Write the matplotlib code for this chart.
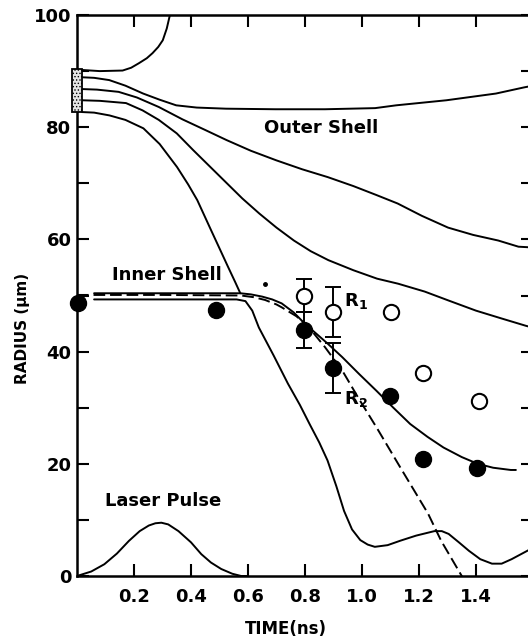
import matplotlib
matplotlib.use('Agg')
import matplotlib.pyplot as plt
from matplotlib.patches import Rectangle
from matplotlib.ticker import MultipleLocator, FixedLocator

plt.rcParams['font.family'] = ['DejaVu Sans']
plt.rcParams['font.weight'] = 'bold'
plt.rcParams['mathtext.fontset'] = 'custom'
plt.rcParams['mathtext.bf'] = 'DejaVu Sans:bold'
plt.rcParams['mathtext.rm'] = 'DejaVu Sans:bold'
plt.rcParams['hatch.linewidth'] = 0.6

# --- simulated trajectories (time in ns, radius in um) ---
top_t = [0.018, 0.08, 0.16, 0.19, 0.217, 0.245, 0.265, 0.285, 0.301, 0.315, 0.326, 0.335]
top_r = [90.2, 90.0, 90.1, 90.6, 91.4, 92.3, 93.2, 94.3, 95.5, 97.6, 100.0, 101.8]

a_t = [0.018, 0.06, 0.113, 0.17, 0.232, 0.29, 0.348, 0.42, 0.523, 0.696, 0.87, 1.046, 1.12, 1.296, 1.47, 1.569, 1.62]
a_r = [88.9, 88.8, 88.4, 87.4, 86.0, 84.9, 83.9, 83.5, 83.3, 83.2, 83.2, 83.4, 83.9, 84.8, 86.0, 87.1, 87.6]

b_t = [0.018, 0.07, 0.146, 0.21, 0.287, 0.37, 0.45, 0.525, 0.61, 0.699, 0.79, 0.88, 0.97, 1.051, 1.125,
       1.21, 1.302, 1.39, 1.478, 1.549, 1.62]
b_r = [86.8, 86.7, 86.3, 85.3, 83.6, 81.4, 79.5, 77.7, 75.8, 74.1, 72.5, 71.1, 69.5, 67.9, 66.4,
       64.2, 62.1, 60.8, 59.8, 58.7, 58.5]

c_t = [0.018, 0.08, 0.172, 0.23, 0.287, 0.35, 0.408, 0.47, 0.526, 0.58, 0.64, 0.70, 0.761, 0.82, 0.882,
       0.97, 1.053, 1.127, 1.22, 1.304, 1.40, 1.49, 1.575, 1.62]
c_r = [84.8, 84.7, 84.3, 83.0, 81.3, 78.9, 75.9, 72.8, 70.0, 67.3, 64.6, 62.1, 59.8, 57.9, 56.3,
       54.5, 53.0, 52.1, 50.7, 49.1, 47.3, 45.9, 44.6, 44.0]

d_t = [0.018, 0.06, 0.114, 0.17, 0.233, 0.29, 0.351, 0.39, 0.422, 0.469, 0.50, 0.530, 0.555, 0.573]
d_r = [82.7, 82.6, 82.1, 81.3, 79.8, 77.0, 72.9, 69.8, 67.0, 61.8, 58.4, 55.1, 52.4, 50.4]

r1_t = [0.06, 0.30, 0.573, 0.61, 0.65, 0.685, 0.718, 0.76, 0.795, 0.826, 0.88, 0.931, 0.99, 1.051,
        1.11, 1.169, 1.23, 1.286, 1.35, 1.406, 1.46, 1.522, 1.54]
r1_r = [50.4, 50.4, 50.4, 50.2, 49.8, 49.3, 48.6, 47.0, 45.2, 43.8, 41.4, 39.0, 36.0, 33.0,
        30.0, 27.1, 24.8, 22.9, 21.2, 20.0, 19.3, 18.9, 18.9]

in_t = [0.06, 0.30, 0.56, 0.591, 0.615, 0.638, 0.69, 0.74, 0.782, 0.817, 0.85, 0.879, 0.91, 0.937,
        0.965, 0.994, 1.02, 1.045, 1.09, 1.135, 1.19, 1.254, 1.28, 1.304, 1.34, 1.375, 1.415, 1.456,
        1.49, 1.525, 1.584, 1.62]
in_r = [49.3, 49.3, 49.3, 49.0, 47.3, 44.3, 39.3, 34.3, 30.5, 27.0, 23.8, 20.6, 16.0, 11.6,
        8.3, 6.4, 5.6, 5.2, 5.5, 6.3, 7.2, 8.0, 8.0, 7.5, 6.0, 4.5, 3.0, 2.2,
        2.2, 3.0, 4.6, 5.8]

r2_t = [0.0, 0.30, 0.575, 0.62, 0.66, 0.70, 0.718, 0.77, 0.814, 0.87, 0.931, 0.99, 1.052, 1.135,
        1.232, 1.278, 1.35, 1.37]
r2_r = [50.1, 50.1, 50.0, 49.7, 49.2, 48.4, 47.9, 46.3, 44.3, 40.8, 36.6, 31.5, 26.4, 19.3,
        11.1, 6.25, 0.0, -1.8]

pulse_t = [0.0, 0.05, 0.096, 0.14, 0.182, 0.22, 0.252, 0.275, 0.296, 0.32, 0.356, 0.40, 0.436, 0.47,
           0.506, 0.545, 0.576, 0.60]
pulse_r = [0.0, 0.8, 2.1, 4.0, 6.25, 8.0, 9.0, 9.4, 9.5, 9.2, 8.0, 6.0, 3.9, 2.4,
           1.25, 0.4, 0.0, 0.0]

# --- measurements ---
r2_meas_t = [0.003, 0.489, 0.797, 0.897, 1.099, 1.213, 1.402]
r2_meas_r = [48.6, 47.5, 43.9, 37.1, 32.0, 20.9, 19.3]
r2_meas_err = [0, 0, 3.2, 4.5, 0, 0, 0]

r1_meas_t = [0.797, 0.897, 1.103, 1.213, 1.409]
r1_meas_r = [50.0, 47.1, 47.0, 36.1, 31.25]
r1_meas_err = [3.0, 4.5, 0, 0, 0]

speck_t = [0.661]
speck_r = [52.1]

fig = plt.figure(figsize=(5.28, 6.38), dpi=100)
ax = fig.add_axes([77 / 528, 62 / 638, 456 / 528, 561 / 638])

lw = 1.4
for t, r in [(top_t, top_r), (a_t, a_r), (b_t, b_r), (c_t, c_r), (d_t, d_r),
             (r1_t, r1_r), (in_t, in_r), (pulse_t, pulse_r)]:
    ax.plot(t, r, color='black', lw=lw, solid_capstyle='round', solid_joinstyle='round')
ax.plot(r2_t, r2_r, color='black', lw=lw, dashes=(6, 2.5))

# target foil marker (stippled box)
ax.add_patch(Rectangle((-0.018, 82.7), 0.034, 7.7, facecolor='#e4e4e4', edgecolor='black',
                       hatch='.....', lw=1.3, clip_on=False, zorder=5))

# error bars
ax.errorbar(r1_meas_t[:2], r1_meas_r[:2], yerr=r1_meas_err[:2], fmt='none', ecolor='black',
            elinewidth=1.4, capsize=5.5, capthick=1.4, zorder=3)
ax.errorbar(r2_meas_t[2:4], r2_meas_r[2:4], yerr=r2_meas_err[2:4], fmt='none', ecolor='black',
            elinewidth=1.4, capsize=5.5, capthick=1.4, zorder=3)

ax.plot(r1_meas_t, r1_meas_r, 'o', ms=11, mfc='white', mec='black', mew=1.5, zorder=6)
ax.plot(r2_meas_t, r2_meas_r, 'o', ms=11.5, mfc='black', mec='black', zorder=6, clip_on=False)
ax.plot(speck_t, speck_r, 'o', ms=2.5, color='black', zorder=6)

# labels on the plot
ax.text(0.858, 79.8, 'Outer Shell', fontsize=13, fontweight='bold', ha='center', va='center')
ax.text(0.317, 53.6, 'Inner Shell', fontsize=13, fontweight='bold', ha='center', va='center')
ax.text(0.302, 13.4, 'Laser Pulse', fontsize=13, fontweight='bold', ha='center', va='center')
ax.text(0.978, 49.1, r'$\mathbf{R_1}$', fontsize=13, ha='center', va='center')
ax.text(0.979, 31.6, r'$\mathbf{R_2}$', fontsize=13, ha='center', va='center')

ax.set_xlim(0, 1.6)
ax.set_ylim(0, 100)
ax.xaxis.set_major_locator(FixedLocator([0.2, 0.4, 0.6, 0.8, 1.0, 1.2, 1.4]))
ax.xaxis.set_major_formatter(plt.FuncFormatter(lambda v, p: f'{v:.1f}'))
ax.yaxis.set_major_locator(MultipleLocator(20))
ax.yaxis.set_minor_locator(MultipleLocator(10))
ax.tick_params(which='both', direction='in', length=8.5, width=1.5, top=True, right=True,
               labeltop=False, labelright=False, labelsize=13)
ax.tick_params(axis='x', pad=9)
ax.tick_params(axis='y', pad=4)
for lab in ax.get_xticklabels() + ax.get_yticklabels():
    lab.set_fontweight('bold')
for s in ax.spines.values():
    s.set_linewidth(1.8)

fig.text(286 / 528, 1 - 629 / 638, 'TIME(ns)', fontsize=12, fontweight='bold', ha='center', va='center')
fig.text(23 / 528, 1 - 328 / 638, 'RADIUS (\u03bcm)', fontsize=11, fontweight='bold', ha='center',
         va='center', rotation=90)

fig.savefig('out.png', dpi=100)
